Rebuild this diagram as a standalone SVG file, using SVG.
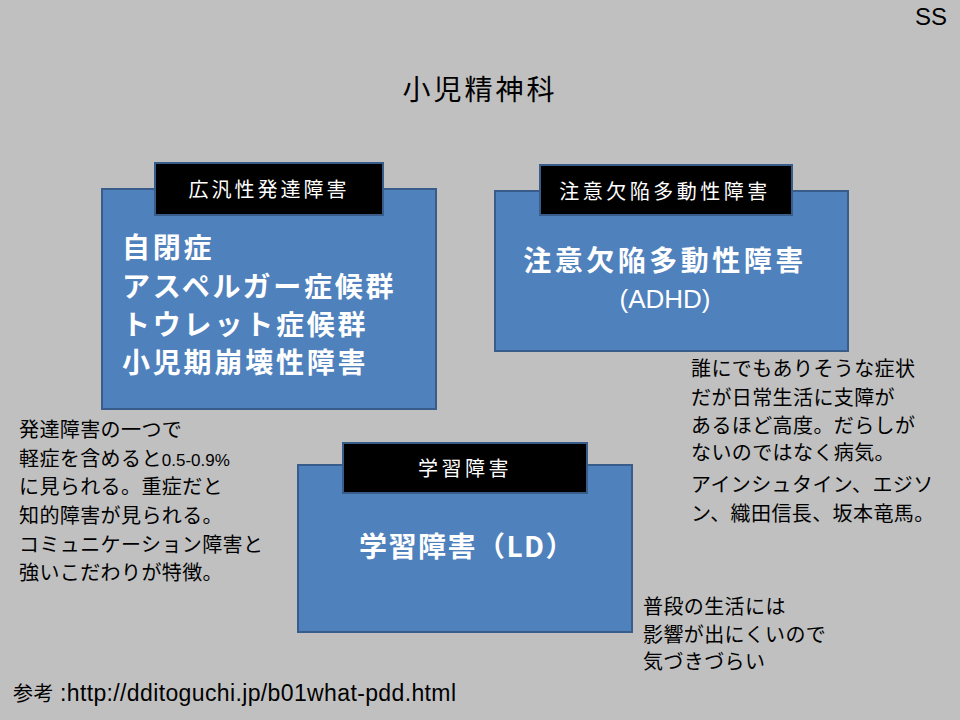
<svg xmlns="http://www.w3.org/2000/svg" width="960" height="720" viewBox="0 0 960 720">
<style>
text{font-family:"Noto Sans CJK JP","Liberation Sans",sans-serif}
.box{fill:#4F81BD;stroke:#385D8A;stroke-width:2}
.lbl{fill:#000;stroke:#385D8A;stroke-width:2}
.lt{fill:#fff;font-size:20px;text-anchor:middle}
.main{fill:#fff;font-size:28px;font-weight:bold}
.note{fill:#000;font-size:20px;letter-spacing:0.4px}
.lat{font-family:"Liberation Sans",sans-serif}
</style>
<rect width="960" height="720" fill="#C0C0C0"/>
<text x="931" y="25" font-size="24" text-anchor="middle" class="lat">SS</text>
<text x="480" y="100" font-size="28" text-anchor="middle" letter-spacing="3">小児精神科</text>
<g id="pdd">
<rect class="box" x="102" y="189" width="334" height="220"/>
<rect class="lbl" x="155" y="163" width="228" height="52"/>
<text class="lt" x="269" y="197" letter-spacing="3">広汎性発達障害</text>
<text class="main" x="122" y="258" letter-spacing="2.8">自閉症</text>
<text class="main" x="122" y="297" letter-spacing="2.8">アスペルガー症候群</text>
<text class="main" x="122" y="335" letter-spacing="2.8">トウレット症候群</text>
<text class="main" x="122" y="373" letter-spacing="2.8">小児期崩壊性障害</text>
</g>
<g id="adhd">
<rect class="box" x="495" y="191" width="353" height="160"/>
<rect class="lbl" x="540" y="165" width="252" height="50"/>
<text class="lt" x="665" y="199" letter-spacing="3.5">注意欠陥多動性障害</text>
<text class="main" x="665" y="271" text-anchor="middle" letter-spacing="3.5">注意欠陥多動性障害</text>
<text x="665" y="308" fill="#fff" font-size="26" text-anchor="middle" class="lat">(ADHD)</text>
</g>
<g id="ld">
<rect class="box" x="298" y="465" width="334" height="167"/>
<rect class="lbl" x="343" y="443" width="244" height="50"/>
<text class="lt" x="465" y="476" letter-spacing="3.5">学習障害</text>
<text class="main" x="467" y="557" text-anchor="middle" letter-spacing="1.5">学習障害（LD）</text>
</g>
<g id="notes">
<text class="note" x="19" y="437">発達障害の一つで</text>
<text class="note" x="19" y="466">軽症を含めると<tspan font-size="17" letter-spacing="0" class="lat">0.5-0.9%</tspan></text>
<text class="note" x="19" y="494">に見られる。重症だと</text>
<text class="note" x="19" y="523">知的障害が見られる。</text>
<text class="note" x="19" y="552">コミュニケーション障害と</text>
<text class="note" x="19" y="580">強いこだわりが特徴。</text>
<text class="note" x="691" y="376">誰にでもありそうな症状</text>
<text class="note" x="691" y="405">だが日常生活に支障が</text>
<text class="note" x="691" y="433">あるほど高度。だらしが</text>
<text class="note" x="691" y="460">ないのではなく病気。</text>
<text class="note" x="691" y="492">アインシュタイン、エジソ</text>
<text class="note" x="691" y="521">ン、織田信長、坂本竜馬。</text>
<text class="note" x="643" y="614">普段の生活には</text>
<text class="note" x="643" y="642">影響が出にくいので</text>
<text class="note" x="643" y="669">気づきづらい</text>
<text class="note" x="13" y="701" letter-spacing="0">参考</text>
<text x="60" y="701" font-size="23" class="lat" textLength="396" lengthAdjust="spacing">:http://dditoguchi.jp/b01what-pdd.html</text>
</g>
</svg>
